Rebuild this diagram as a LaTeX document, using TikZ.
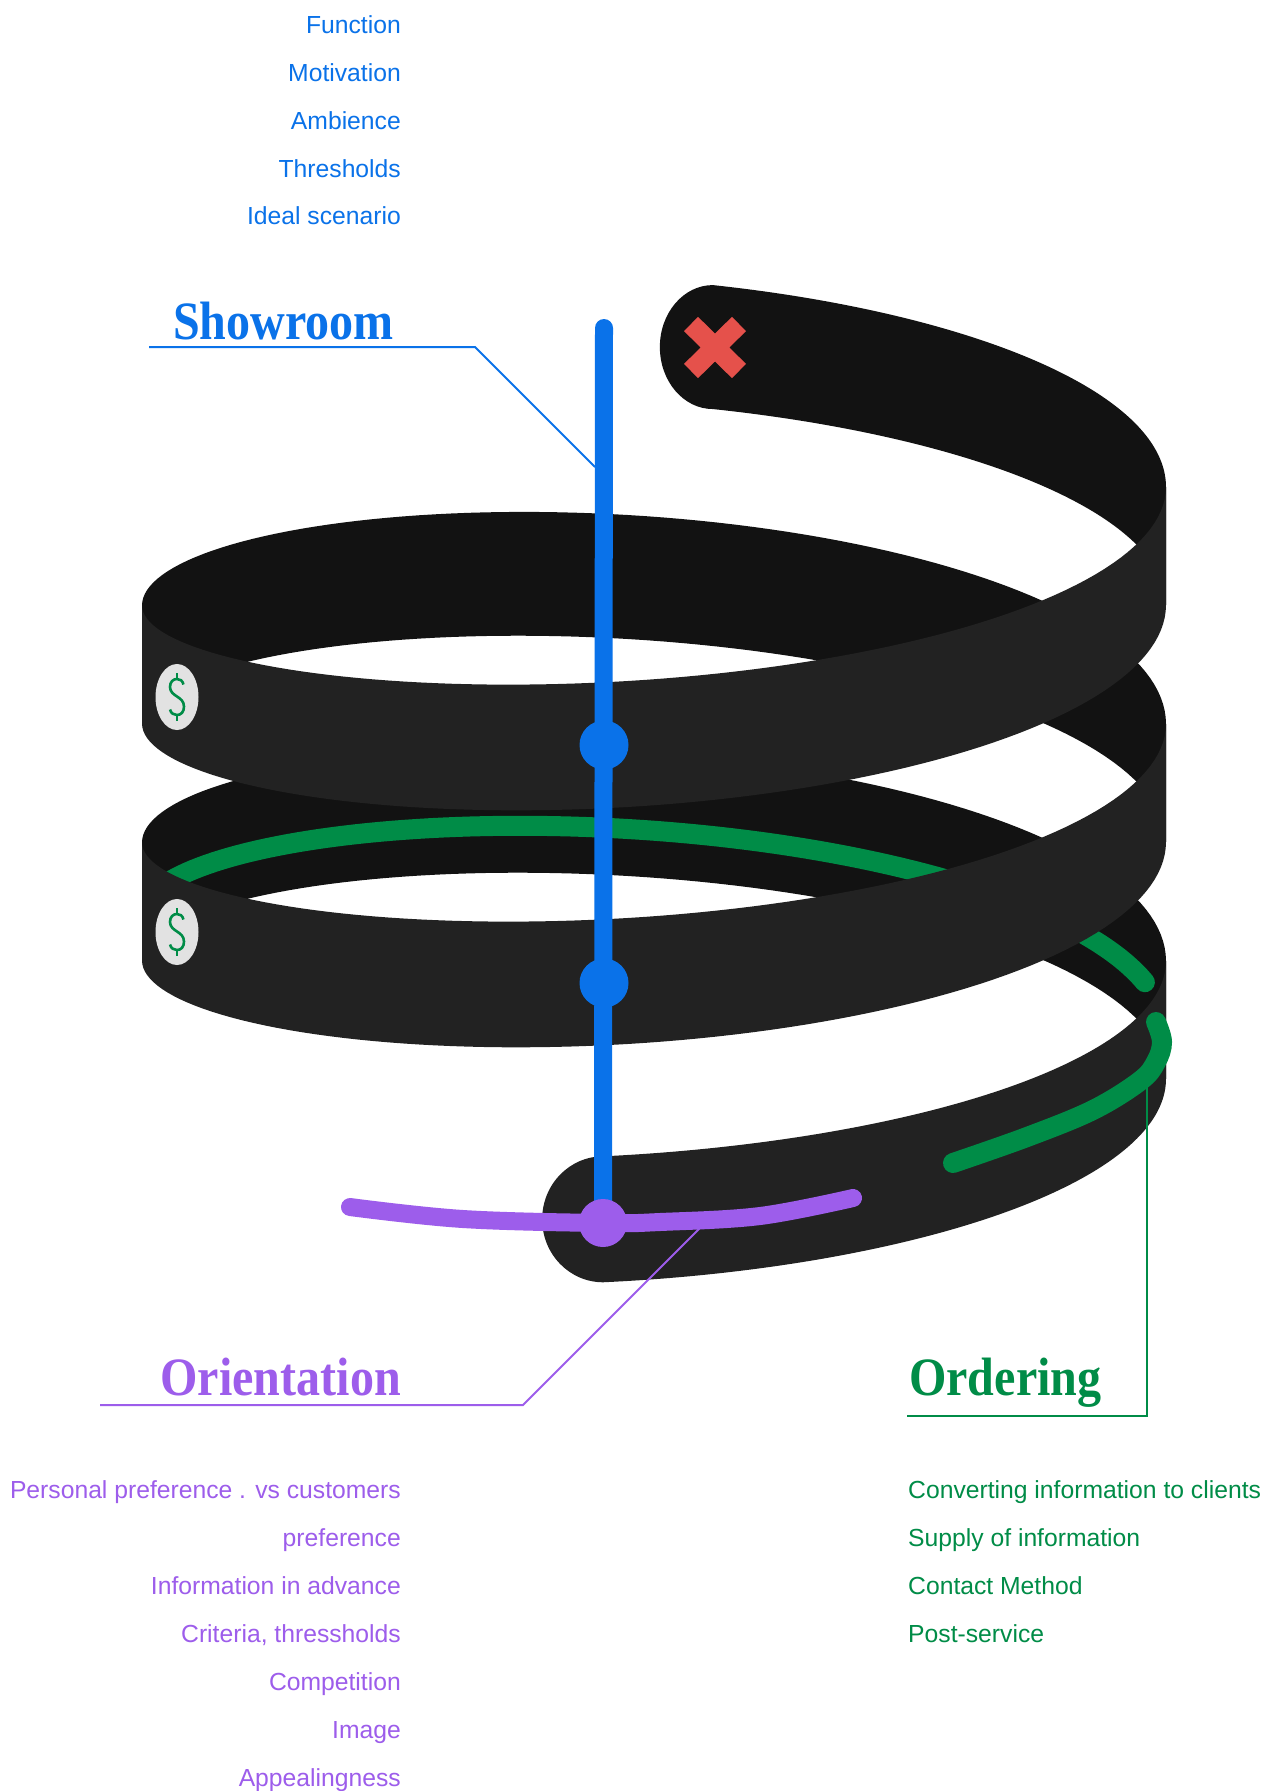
\documentclass[tikz,border=0pt]{standalone}
\usepackage{fontspec}
\usepackage{graphicx}
\setmainfont{Liberation Sans}
\newfontfamily\headfont{Liberation Serif}

\definecolor{bandback}{HTML}{121212}
\definecolor{bandfront}{HTML}{222222}
\definecolor{showblue}{HTML}{0A72E9}
\definecolor{oripurple}{HTML}{9D5DEB}
\definecolor{ordgreen}{HTML}{008C47}
\definecolor{crossred}{HTML}{E5514B}
\definecolor{coingray}{HTML}{E2E2E2}

% helical ribbon, angle in degrees, y grows downwards
\newcommand\hxX[1]{654+512*cos(#1)}
\newcommand\hxBackTop[1]{487+148*sin(#1)+0.6583*(#1)}
\newcommand\hxBackBot[1]{605+142*sin(#1)+0.6583*(#1)}
\newcommand\hxFrontTop[1]{487+133*sin(#1)+0.6583*(#1)}
\newcommand\hxFrontBot[1]{605+141*sin(#1)+0.6583*(#1)}
\newcommand\hxGreen[1]{560+144*sin(#1)+0.6583*(#1)}

\newcommand\backstrip[2]{%
  \fill[bandback] plot[domain=#1:#2] ({\hxX{\p}},{\hxBackTop{\p}})
    -- plot[domain=#2:#1] ({\hxX{\p}},{\hxBackBot{\p}}) -- cycle;}
\newcommand\frontstrip[2]{%
  \fill[bandfront] plot[domain=#1:#2] ({\hxX{\p}},{\hxFrontTop{\p}})
    -- plot[domain=#2:#1] ({\hxX{\p}},{\hxFrontBot{\p}}) -- cycle;}

\tikzset{
  listitem/.style={inner sep=0pt, font=\fontsize{24.7pt}{30pt}\selectfont},
  headline/.style={inner sep=0pt, font=\headfont\bfseries\fontsize{54pt}{60pt}\selectfont},
  leader/.style={line width=2pt},
  greentrace/.style={ordgreen, line width=20pt, line cap=round},
  pindot/.style={circle, inner sep=0pt, minimum size=49pt},
  dollarcoin/.pic={
    \fill[coingray] (0,0) ellipse[x radius=21.5, y radius=33];
    \draw[ordgreen, line width=2.6pt]
      (6.5,-12.5) .. controls (5.5,-16.5) and (3,-18) .. (0,-18)
      .. controls (-4,-18) and (-7,-15) .. (-7,-10)
      .. controls (-7,-5) and (-3,-2.5) .. (0,-0.5)
      .. controls (3,1.5) and (7,4) .. (7,9.5)
      .. controls (7,15) and (4,18) .. (0,18)
      .. controls (-3,18) and (-6,16.5) .. (-7,12.5);
    \draw[ordgreen, line width=2.6pt] (0,-24) -- (0,-17) (0,17) -- (0,24);
  }
}

\begin{document}
\begin{tikzpicture}[x=1pt, y=-1pt, variable=\p, samples=90]
\fill[white] (0,0) rectangle (1271,1791);
\useasboundingbox (0,0) rectangle (1271,1791);

% ---- ribbon: far halves of each turn
\fill[bandback] (712.85,409.04) .. controls (683.6,409.04) and (659.85,381.3) .. (659.85,347.06)
  .. controls (659.85,312.8) and (683.6,285.08) .. (712.85,285.08)
  -- plot[domain=-83.4:0] ({\hxX{\p}},{\hxBackTop{\p}})
  -- plot[domain=0:-83.4] ({\hxX{\p}},{\hxBackBot{\p}}) -- cycle;
\backstrip{180}{360}
\backstrip{540}{720}

% green trace on the inner wall of the third turn
\draw[greentrace] plot[domain=556:703.5] ({\hxX{\p}},{\hxGreen{\p}});

% ---- ribbon: near halves of each turn
\frontstrip{0}{180}
\frontstrip{360}{540}
\fill[bandfront] plot[domain=720:815.7] ({\hxX{\p}},{\hxFrontTop{\p}})
  -- (603.15,1156.31) .. controls (569.46,1156.31) and (542.15,1184.5) .. (542.15,1219.3)
  .. controls (542.15,1254.1) and (569.46,1282.27) .. (603.15,1282.27)
  -- plot[domain=815.7:720] ({\hxX{\p}},{\hxFrontBot{\p}}) -- cycle;

% coins and end cross
\pic at (177,697) {dollarcoin};
\pic at (177,932) {dollarcoin};
\draw[crossred, line width=20pt] (691,324) -- (739,371) (739,324) -- (691,371);

% green trace on the outer wall of the last turn
\draw[greentrace] plot[smooth, tension=0.6] coordinates
  {(1156,1022) (1162,1042) (1156,1062) (1140,1081) (1093,1110) (1027,1137) (953,1163)};

% ---- titles and leaders
\node[headline, text=showblue, anchor=base west] (showroom) at (173,339) {\scalebox{0.89}[1]{Showroom}};
\node[headline, text=oripurple, anchor=base east] (orientation) at (401,1395) {\scalebox{0.89}[1]{Orientation}};
\node[headline, text=ordgreen, anchor=base west] (ordering) at (909,1395) {\scalebox{0.89}[1]{Ordering}};

\coordinate (srStart) at (149,347);
\coordinate (srKnee) at (475,347);
\coordinate (srTip) at (595,467);
\coordinate (orStart) at (100,1405);
\coordinate (orKnee) at (523,1405);
\coordinate (orTip) at (700,1228);
\coordinate (odStart) at (907,1416);
\coordinate (odKnee) at (1147,1416);
\coordinate (odTip) at (1147,1082);

\draw[leader, showblue] (srStart) -- (srKnee) -- (srTip);
\draw[leader, ordgreen] (odStart) -- (odKnee) -- (odTip);

% ---- vertical axis with its markers
\coordinate (barTop) at (604,328);
\coordinate (barEnd) at (603,1223);
\draw[showblue, line width=18pt, line cap=round] (barTop) -- (barEnd);
\node[pindot, fill=showblue] (pinA) at (604,745) {};
\node[pindot, fill=showblue] (pinB) at (604,983) {};

% purple arc across the last turn
\draw[oripurple, line width=18pt, line cap=round] plot[smooth, tension=0.6] coordinates
  {(350,1207) (463,1219) (603,1223) (660,1222) (760,1216) (853,1198)};
\node[pindot, fill=oripurple, minimum size=48pt] (pinC) at (barEnd) {};
\draw[leader, oripurple] (orStart) -- (orKnee) -- (orTip);

% ---- lists
\node[listitem, text=showblue, anchor=base east] (s1) at (401,33) {Function};
\node[listitem, text=showblue, anchor=base east] (s2) at (401,81) {Motivation};
\node[listitem, text=showblue, anchor=base east] (s3) at (401,129) {Ambience};
\node[listitem, text=showblue, anchor=base east] (s4) at (401,177) {Thresholds};
\node[listitem, text=showblue, anchor=base east] (s5) at (401,224) {Ideal scenario};

\node[listitem, text=oripurple, anchor=base east] (o1) at (401,1498) {Personal preference . vs customers};
\node[listitem, text=oripurple, anchor=base east] (o2) at (401,1546) {preference};
\node[listitem, text=oripurple, anchor=base east] (o3) at (401,1594) {Information in advance};
\node[listitem, text=oripurple, anchor=base east] (o4) at (401,1642) {Criteria, thressholds};
\node[listitem, text=oripurple, anchor=base east] (o5) at (401,1690) {Competition};
\node[listitem, text=oripurple, anchor=base east] (o6) at (401,1738) {Image};
\node[listitem, text=oripurple, anchor=base east] (o7) at (401,1786) {Appealingness};

\node[listitem, text=ordgreen, anchor=base west] (d1) at (908,1498) {Converting information to clients};
\node[listitem, text=ordgreen, anchor=base west] (d2) at (908,1546) {Supply of information};
\node[listitem, text=ordgreen, anchor=base west] (d3) at (908,1594) {Contact Method};
\node[listitem, text=ordgreen, anchor=base west] (d4) at (908,1642) {Post-service};
\end{tikzpicture}
\end{document}
